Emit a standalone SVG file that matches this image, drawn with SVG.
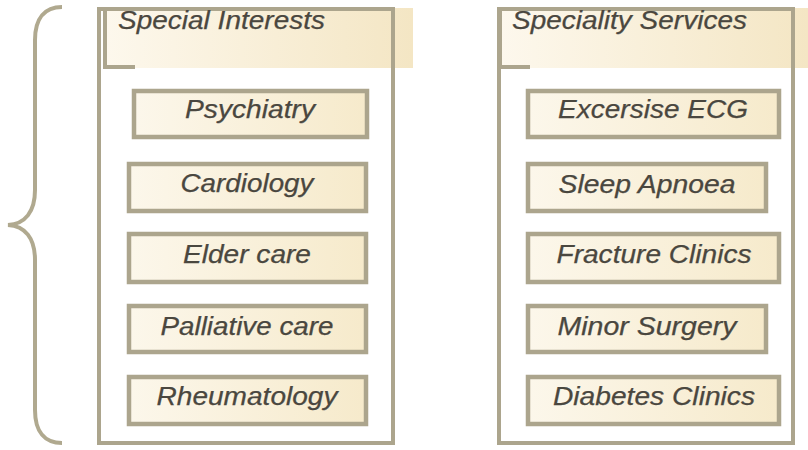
<svg xmlns="http://www.w3.org/2000/svg" width="808" height="450" viewBox="0 0 808 450">
<defs>
<linearGradient id="boxFill" x1="0" y1="0" x2="1" y2="0">
<stop offset="0" stop-color="#fcf7eb"/>
<stop offset="1" stop-color="#f6eacb"/>
</linearGradient>
<linearGradient id="headFill" x1="0" y1="0" x2="1" y2="0">
<stop offset="0" stop-color="#fdf8ed"/>
<stop offset="1" stop-color="#f4e6c4"/>
</linearGradient>
</defs>
<style>
.frame{fill:none;stroke:#aca58d;stroke-width:4}
.head{fill:url(#headFill)}
.corner{fill:none;stroke:#aca58d;stroke-width:4}
.box{fill:url(#boxFill);stroke:#aca58d;stroke-width:4.5}
.t{font-family:"Liberation Sans",Arial,sans-serif;font-style:italic;font-size:25.5px;fill:#4a473f;text-anchor:middle;stroke:#4a473f;stroke-width:0.25}
.h{font-family:"Liberation Sans",Arial,sans-serif;font-style:italic;font-size:25.5px;fill:#4a473f;stroke:#4a473f;stroke-width:0.25}
.brace{fill:none;stroke:#b0a98f;stroke-width:4;stroke-linecap:butt}
</style>
<g id="connectors">
<path class="brace" d="M62,7 C45,7 35,18 35,40 L35,190 C35,212 25,224 8,225 C25,226 35,238 35,260 L35,410 C35,432 45,443 62,443"/>
</g>
<g id="special-interests">
<rect class="head" x="105" y="8" width="308" height="60"/>
<rect class="frame" x="99" y="9" width="294" height="434"/>
<path class="corner" d="M105,10 L105,67 L135,67"/>
<text class="h" x="118" y="29" textLength="207" lengthAdjust="spacingAndGlyphs">Special Interests</text>
</g>
<g id="psychiatry"><rect class="box" x="134" y="91" width="233" height="46"/><text class="t" x="250" y="118" textLength="130" lengthAdjust="spacingAndGlyphs">Psychiatry</text></g>
<g id="cardiology"><rect class="box" x="129" y="164" width="237" height="47"/><text class="t" x="247" y="192" textLength="133" lengthAdjust="spacingAndGlyphs">Cardiology</text></g>
<g id="elder-care"><rect class="box" x="129" y="234" width="237" height="48"/><text class="t" x="247" y="263" textLength="128" lengthAdjust="spacingAndGlyphs">Elder care</text></g>
<g id="palliative-care"><rect class="box" x="129" y="306" width="237" height="46"/><text class="t" x="247" y="335" textLength="173" lengthAdjust="spacingAndGlyphs">Palliative care</text></g>
<g id="rheumatology"><rect class="box" x="129" y="377" width="237" height="47"/><text class="t" x="247" y="405" textLength="181" lengthAdjust="spacingAndGlyphs">Rheumatology</text></g>
<g id="speciality-services">
<rect class="head" x="500" y="8" width="308" height="60"/>
<rect class="frame" x="499" y="9" width="294" height="434"/>
<path class="corner" d="M500,10 L500,67 L530,67"/>
<text class="h" x="512" y="29" textLength="235" lengthAdjust="spacingAndGlyphs">Speciality Services</text>
</g>
<g id="excersise-ecg"><rect class="box" x="528" y="91" width="251" height="46"/><text class="t" x="653" y="118" textLength="190" lengthAdjust="spacingAndGlyphs">Excersise ECG</text></g>
<g id="sleep-apnoea"><rect class="box" x="528" y="164" width="238" height="47"/><text class="t" x="647" y="193" textLength="177" lengthAdjust="spacingAndGlyphs">Sleep Apnoea</text></g>
<g id="fracture-clinics"><rect class="box" x="528" y="234" width="251" height="48"/><text class="t" x="654" y="263" textLength="195" lengthAdjust="spacingAndGlyphs">Fracture Clinics</text></g>
<g id="minor-surgery"><rect class="box" x="528" y="306" width="238" height="46"/><text class="t" x="647" y="335" textLength="179" lengthAdjust="spacingAndGlyphs">Minor Surgery</text></g>
<g id="diabetes-clinics"><rect class="box" x="528" y="377" width="251" height="47"/><text class="t" x="654" y="405" textLength="202" lengthAdjust="spacingAndGlyphs">Diabetes Clinics</text></g>
</svg>
